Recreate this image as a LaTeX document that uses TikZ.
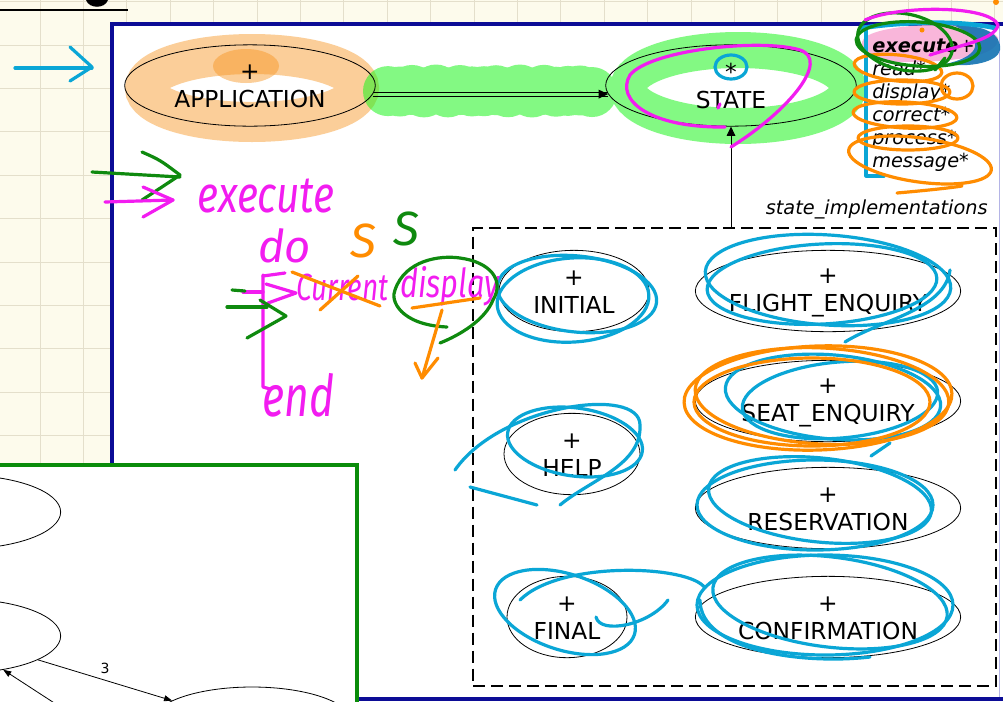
\documentclass[tikz,border=0pt]{standalone}
\usepackage{fontspec}
\usepackage{graphicx}
\usetikzlibrary{shapes.geometric,arrows.meta,calc}
\newfontfamily\dgfont{DejaVu Sans}
\newfontfamily\handfont{Fira Sans}
\newcommand\hw[1]{\handfont\itshape\fontsize{#1}{#1}\selectfont}
\definecolor{paper}{RGB}{253,251,236}
\definecolor{gridc}{RGB}{228,223,203}
\definecolor{navy}{RGB}{12,12,150}
\definecolor{edgeblue}{RGB}{180,180,230}
\definecolor{panelgreen}{RGB}{10,140,10}
\definecolor{penmag}{RGB}{242,28,240}
\definecolor{pencyan}{RGB}{10,166,214}
\definecolor{penorange}{RGB}{255,140,0}
\definecolor{pengreen}{RGB}{15,138,15}
\definecolor{hlgreen}{RGB}{30,245,30}
\definecolor{hlpeach}{RGB}{247,148,29}
\definecolor{hlpink}{RGB}{248,170,212}
\definecolor{inkblue}{RGB}{18,115,178}
\begin{document}
\begin{tikzpicture}[x=0.75pt,y=-0.75pt,
  gridline/.style={gridc, line width=0.75pt},
  stnode/.style={ellipse, draw, line width=0.6pt, inner sep=0pt, minimum height=61pt},
  stlabel/.style={font=\dgfont\fontsize{17.5}{21}\selectfont, align=center, inner sep=0pt},
  feat/.style={font=\dgfont\itshape\fontsize{14.5}{17}\selectfont, anchor=base west, inner sep=0pt},
  pen/.style={line width=2.4pt, line cap=round, line join=round},
  tip/.style={-{Triangle[length=7pt,width=6.5pt]}},
  smalltip/.style={-{Triangle[length=6pt,width=4.5pt]}},
  hand/.style={inner sep=0pt, anchor=base west},
]
\useasboundingbox (0,0) rectangle (1003,701);
\clip (0,0) rectangle (1003,701);

% squared paper
\fill[paper] (0,0) rectangle (1003,701);
\foreach \i in {0,...,22} \draw[gridline] ({40+43.4*\i},0) -- ++(0,701);
\foreach \j in {0,...,16} \draw[gridline] (0,{1.6+43.4*\j}) -- ++(1003,0);

% heading rule at the top left
\draw[line width=1.4pt] (0,10) -- (128,10);
\fill (86,0) .. controls (89,9) and (105,9) .. (108,0) -- cycle;

% main panel
\draw[navy, line width=3pt, fill=white] (111.5,24) rectangle (1020,698.5);
\draw[edgeblue, line width=0.75pt] (999.5,26) -- (999.5,697);

% highlighter marks (under the ink of the diagram)
\draw[hlpeach, opacity=.45, line width=30pt] (252,88) ellipse [x radius=107, y radius=34];
\fill[hlpeach, opacity=.45] (246,66) ellipse [x radius=33, y radius=17];
\begin{scope}[transparency group, opacity=0.55]
  \draw[hlgreen, line width=27pt] (738,88) ellipse [x radius=110, y radius=38];
  \foreach \x in {388,400,...,600} \fill[hlgreen] (\x,{91+1.5*sin(\x*13)}) circle [radius=25];
\end{scope}
\fill[hlpink, opacity=.85] (862,42) .. controls (865,22) and (990,18) .. (998,38) .. controls (1000,55) and (960,62) .. (905,62) .. controls (875,62) and (860,55) .. (862,42) -- cycle;
\fill[inkblue, opacity=.9] (955,26) .. controls (985,24) and (1002,35) .. (1000,50) .. controls (998,62) and (970,68) .. (945,64) .. controls (975,58) and (990,42) .. (955,26) -- cycle;

% top level classes
\node[stnode, minimum width=188pt] (app) at (250,85.5) {};
\node[stlabel] (app-l) at ($(app)+(0,0.5)$) {+\\APPLICATION};
\node[stnode, minimum width=188pt] (st) at (731,85.5) {};
\node[stlabel] (st-l) at ($(st)+(0,0.5)$) {*\\STATE};

% client link (double line)
\draw[line width=0.6pt] ([yshift=1.4pt]app.-4) -- ([yshift=1.4pt]st.184);
\draw[line width=0.6pt] ([yshift=-1.4pt]app.-4) -- ([yshift=-1.4pt]st.184);
\draw[line width=0.6pt, tip] ([xshift=-3pt]st.184) -- (st.184);

% feature list of STATE
\node[feat] (f1) at (872,52) {{\bfseries execute}{\upshape +}};
\node[feat] (f2) at (872,75) {read*};
\node[feat] (f3) at (872,98) {display*};
\node[feat] (f4) at (872,121) {correct*};
\node[feat] (f5) at (872,144) {process*};
\node[feat] (f6) at (872,167) {message*};

% cluster of state implementations
\node[draw, line width=1.5pt, dash pattern=on 9pt off 4.5pt, minimum width=392pt, minimum height=343.5pt, inner sep=0pt, outer sep=0pt] (impl) at (734.75,457) {};
\node[feat, anchor=base east] (impl-name) at (988,214) {state\_implementations};
\draw[line width=0.6pt, tip] (impl.north -| st.south) -- (st.south);

\node[stnode, minimum width=112.5pt] (init) at (574,291) {};
\node[stlabel] (init-l) at ($(init)+(0,1.5)$) {+\\INITIAL};
\node[stnode, minimum width=199pt] (flight) at (828,291) {};
\node[stlabel] (flight-l) at ($(flight)+(0,1.5)$) {+\\FLIGHT\_ENQUIRY};
\node[stnode, minimum width=199pt] (seat) at (828,401) {};
\node[stlabel] (seat-l) at ($(seat)+(0,1.5)$) {+\\SEAT\_ENQUIRY};
\node[stnode, minimum width=102pt] (help) at (572,454) {};
\node[stlabel] (help-l) at ($(help)+(0,1.5)$) {+\\HELP};
\node[stnode, minimum width=199pt] (res) at (828,508) {};
\node[stlabel] (res-l) at ($(res)+(0,1.5)$) {+\\RESERVATION};
\node[stnode, minimum width=90pt] (final) at (567,617) {};
\node[stlabel] (final-l) at ($(final)+(0,1.5)$) {+\\FINAL};
\node[stnode, minimum width=199pt] (conf) at (828,617) {};
\node[stlabel] (conf-l) at ($(conf)+(0,1.5)$) {+\\CONFIRMATION};

% second panel (transition graph)
\draw[panelgreen, line width=3pt, fill=white] (-10,465) rectangle (357,712);
\node[stnode, minimum width=151pt, minimum height=55.5pt] (ga) at (-40,512) {};
\node[stnode, minimum width=151pt, minimum height=55.5pt] (gb) at (-40,636) {};
\node[stnode, minimum width=150pt, minimum height=52.5pt] (gc) at (252,722) {};
\coordinate (gd) at (62,708);
\draw[line width=0.6pt, smalltip] (gb.-17) -- node[above=1pt, font=\dgfont\fontsize{10.5}{12}\selectfont] (e3) {3} (gc.165);
\draw[line width=0.6pt, smalltip] (gd) -- (gb.-38);

% pen annotations: cyan
\draw[pen, pencyan] (15,68) -- (92,68);
\draw[pen, pencyan] (70,47) -- (92,67) -- (70,81);
\draw[pen, pencyan] (731,67) ellipse [x radius=16, y radius=12];
\draw[pencyan, line width=3.5pt, line cap=round] (862,28) .. controls (900,22) and (960,20) .. (995,28);
\draw[pen, pencyan] (866,30) -- (866,176) -- (884,176);
\draw[pen, pencyan, rotate around={-6:(577,294)}] (577,294) ellipse [x radius=80, y radius=38];
\draw[pen, pencyan, rotate around={4:(573,300)}] (573,300) ellipse [x radius=76, y radius=42];
\draw[pen, pencyan, rotate around={-4:(828,280)}] (828,280) ellipse [x radius=123, y radius=45];
\draw[pen, pencyan, rotate around={3:(822,284)}] (822,284) ellipse [x radius=115, y radius=40];
\draw[pen, pencyan] (950,270) .. controls (945,310) and (880,320) .. (845,342);
\draw[pen, pencyan, rotate around={-5:(833,397)}] (833,397) ellipse [x radius=108, y radius=42];
\draw[pen, pencyan, rotate around={5:(840,400)}] (840,400) ellipse [x radius=98, y radius=38];
\draw[pen, pencyan] (871,456) -- (890,443);
\draw[pen, pencyan, rotate around={-8:(575,442)}] (575,442) ellipse [x radius=68, y radius=34];
\draw[pen, pencyan] (455,470) .. controls (500,405) and (640,385) .. (640,425) .. controls (642,465) and (590,480) .. (560,505);
\draw[pen, pencyan] (470,487) -- (537,505);
\draw[pen, pencyan] (815,505) ellipse [x radius=118, y radius=45];
\draw[pen, pencyan, rotate around={-6:(820,500)}] (820,500) ellipse [x radius=112, y radius=42];
\draw[pen, pencyan, rotate around={-18:(565,612)}] (565,612) ellipse [x radius=73, y radius=38];
\draw[pen, pencyan] (520,600) .. controls (560,560) and (690,565) .. (705,588);
\draw[pen, pencyan] (596,617) .. controls (600,635) and (650,625) .. (668,600);
\draw[pen, pencyan] (825,605) ellipse [x radius=128, y radius=50];
\draw[pen, pencyan, rotate around={-7:(830,602)}] (830,602) ellipse [x radius=118, y radius=45];
\draw[pen, pencyan] (700,600) .. controls (700,650) and (800,665) .. (870,657);

% pen annotations: orange
\draw[pen, penorange, rotate around={2:(818,398)}] (818,398) ellipse [x radius=134, y radius=52];
\draw[pen, penorange, rotate around={-3:(822,396)}] (822,396) ellipse [x radius=127, y radius=48];
\draw[pen, penorange] (812,402) ellipse [x radius=118, y radius=44];
\draw[pen, penorange, rotate around={-6:(898,68)}] (898,68) ellipse [x radius=44, y radius=13];
\draw[pen, penorange] (902,92) ellipse [x radius=48, y radius=12];
\draw[pen, penorange] (957,86) ellipse [x radius=16, y radius=13];
\draw[pen, penorange, rotate around={-3:(905,115)}] (905,115) ellipse [x radius=52, y radius=13];
\draw[pen, penorange] (908,138) ellipse [x radius=50, y radius=12];
\draw[pen, penorange, rotate around={-8:(920,160)}] (920,160) ellipse [x radius=72, y radius=22];
\draw[pen, penorange] (897,193) .. controls (920,191) and (950,188) .. (962,186);
\fill[penorange] (922,30) circle [radius=2.5];
\fill[penorange] (996,2) circle [radius=3];

% pen annotations: green and magenta around execute
\draw[pen, pengreen, rotate around={-4:(918,44)}] (918,44) ellipse [x radius=62, y radius=22];
\draw[pen, pengreen, rotate around={-12:(905,42)}] (905,42) ellipse [x radius=48, y radius=28];
\draw[pen, pengreen] (935,70) -- (945,58);
\draw[pen, penmag] (865,20) .. controls (900,5) and (990,5) .. (998,25) .. controls (995,40) and (960,45) .. (930,55);
\draw[pen, penmag] (731,147) .. controls (790,110) and (830,60) .. (800,50) .. controls (760,38) and (650,50) .. (630,75) .. controls (615,100) and (650,128) .. (725,127);
\draw[pen, penmag] (718,108) -- (720,104);

% pen notes on the left
\draw[pen, pengreen] (92,172) -- (180,177);
\draw[pen, pengreen] (142,152) .. controls (160,160) .. (180,175) .. controls (165,185) .. (142,200);
\draw[pen, penmag] (105,202) -- (173,200);
\draw[pen, penmag] (143,187) -- (173,200) -- (143,217);
\node[hand, penmag, font=\hw{32}] (w-exec) at (197,212) {\scalebox{0.95}[1.2]{execute}};
\node[hand, penmag, font=\hw{34}] (w-do) at (258,262) {do};
\node[hand, penmag, font=\hw{21}] (w-cur) at (296,300) {\scalebox{1}[1.35]{Current}};
\node[hand, penmag, font=\hw{23}] (w-disp) at (400,297) {\scalebox{1}[1.3]{display}};
\node[hand, penmag, font=\hw{32}] (w-end) at (262,416) {\scalebox{1}[1.35]{end}};
\node[hand, penorange, font=\hw{36}] (w-s1) at (350,257) {S};
\node[hand, pengreen, font=\hw{36}] (w-s2) at (393,245) {S};
\draw[pen, penmag] (243,292) -- (263,292);
\draw[pen, penmag] (263,275) -- (263,387) -- (270,389);
\draw[pen, penmag] (263,276) -- (285,273);
\draw[pen, penmag] (266,284) -- (296,293) -- (268,303);
\draw[pen, pengreen] (232,290) -- (245,291);
\draw[pen, pengreen] (227,307) -- (267,307);
\draw[pen, pengreen] (260,300) -- (286,316) -- (247,338);
\draw[pen, penorange] (292,272) -- (380,306);
\draw[pen, penorange] (320,310) -- (358,276);
\draw[pen, pengreen] (447,327) .. controls (400,325) and (390,300) .. (395,290) .. controls (405,260) and (440,255) .. (460,258) .. controls (490,262) and (505,280) .. (493,300) .. controls (485,320) and (460,335) .. (440,343);
\draw[pen, penorange] (412,308) -- (480,298);
\draw[pen, penorange] (442,310) -- (422,378);
\draw[pen, penorange] (415,363) -- (422,378) -- (438,358);
\end{tikzpicture}
\end{document}
